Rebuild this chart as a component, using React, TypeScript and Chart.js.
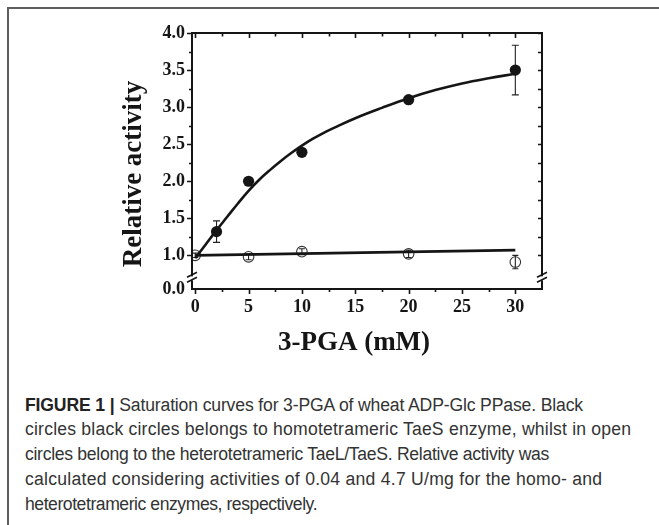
import React, { useEffect, useRef } from "react";
import { Chart, registerables } from "chart.js";

Chart.register(...registerables);

// ---- data ----
const filledX = [2, 5, 10, 20, 30];
const filledY = [1.32, 2.0, 2.39, 3.1, 3.5];
const filledErr = [0.145, 0.03, 0.03, 0.04, 0.335];

const openX = [0, 5, 10, 20, 30];
const openY = [1.0, 0.98, 1.05, 1.02, 0.91];
const openErr = [0.03, 0.04, 0.04, 0.05, 0.09];

const fitFilledX = [0, 1, 2, 3, 4, 5, 6, 7, 8, 9, 10, 11, 12, 13, 15, 17.5, 20, 22.5, 25, 27.5, 30];
const fitFilledY = [0.96, 1.15, 1.34, 1.52, 1.7, 1.87, 2.02, 2.15, 2.27, 2.38, 2.48, 2.57, 2.65, 2.72, 2.85, 2.99, 3.12, 3.23, 3.32, 3.39, 3.45];

const fitOpenX = [0, 30];
const fitOpenY = [1.0, 1.07];

const xTicks = [0, 5, 10, 15, 20, 25, 30];
const xMinorTicks = [2.5, 7.5, 12.5, 17.5, 22.5, 27.5];
const yTicks = [1.0, 1.5, 2.0, 2.5, 3.0, 3.5, 4.0];
const yMinorTicks = [1.25, 1.75, 2.25, 2.75, 3.25, 3.75];
const yBreakLabel = "0.0";
const yBreakValue = 0.69;

const X_MIN = -0.3;
const X_MAX = 32.5;
const Y_MIN = 0.546;
const Y_MAX = 4.0;

const xTitle = "3-PGA (mM)";
const yTitle = "Relative activity";

const captionLead = "FIGURE 1 |";
const captionLines = [
  " Saturation curves for 3-PGA of wheat ADP-Glc PPase. Black",
  "circles black circles belongs to homotetrameric TaeS enzyme, whilst in open",
  "circles belong to the heterotetrameric TaeL/TaeS. Relative activity was",
  "calculated considering activities of 0.04 and 4.7 U/mg for the homo- and",
  "heterotetrameric enzymes, respectively.",
];
const captionSpacing = [-0.15, 0.2, -0.3, 0.25, -0.45];

const INK = "#151515";
const SERIF = "'Liberation Serif', 'Times New Roman', serif";

const framePlugin = {
  id: "frameAndDecor",
  beforeDatasetsDraw(chart: any) {
    const { ctx, scales } = chart;
    const xs = scales.x;
    const ys = scales.y;
    ctx.save();
    ctx.strokeStyle = "#222";
    ctx.lineWidth = 1.1;
    const drawErr = (xv: number[], yv: number[], ev: number[], cap: number) => {
      for (let i = 0; i < xv.length; i++) {
        const px = xs.getPixelForValue(xv[i]);
        const p1 = ys.getPixelForValue(yv[i] + ev[i]);
        const p2 = ys.getPixelForValue(yv[i] - ev[i]);
        ctx.beginPath();
        ctx.moveTo(px, p1);
        ctx.lineTo(px, p2);
        ctx.moveTo(px - cap, p1);
        ctx.lineTo(px + cap, p1);
        ctx.moveTo(px - cap, p2);
        ctx.lineTo(px + cap, p2);
        ctx.stroke();
      }
    };
    drawErr(filledX, filledY, filledErr, 3.5);
    drawErr(openX, openY, openErr, 3);
    ctx.restore();
  },
  afterDraw(chart: any) {
    const { ctx, chartArea, scales } = chart;
    const xs = scales.x;
    const ys = scales.y;
    const { left, right, top, bottom } = chartArea;
    ctx.save();
    ctx.strokeStyle = INK;
    ctx.lineWidth = 2;
    ctx.lineCap = "butt";
    ctx.beginPath();
    ctx.moveTo(left, top);
    ctx.lineTo(right, top);
    ctx.lineTo(right, bottom);
    ctx.lineTo(left, bottom);
    ctx.closePath();
    ctx.stroke();
    ctx.lineWidth = 1.6;
    ctx.beginPath();
    for (const v of xTicks) {
      const px = Math.round(xs.getPixelForValue(v)) + 0.5;
      ctx.moveTo(px, bottom);
      ctx.lineTo(px, bottom + 5);
      ctx.moveTo(px, top);
      ctx.lineTo(px, top + 5);
    }
    for (const v of xMinorTicks) {
      const px = Math.round(xs.getPixelForValue(v)) + 0.5;
      ctx.moveTo(px, bottom);
      ctx.lineTo(px, bottom + 3);
      ctx.moveTo(px, top);
      ctx.lineTo(px, top + 3.5);
    }
    for (const v of yTicks) {
      const py = Math.round(ys.getPixelForValue(v)) + 0.5;
      ctx.moveTo(left, py);
      ctx.lineTo(left - 5, py);
      ctx.moveTo(right, py);
      ctx.lineTo(right - 4, py);
    }
    for (const v of yMinorTicks) {
      const py = Math.round(ys.getPixelForValue(v)) + 0.5;
      ctx.moveTo(left, py);
      ctx.lineTo(left - 3, py);
      ctx.moveTo(right, py);
      ctx.lineTo(right - 4, py);
    }
    ctx.stroke();
    const by = ys.getPixelForValue(yBreakValue);
    for (const ax of [left, right]) {
      ctx.fillStyle = "#fff";
      ctx.fillRect(ax - 2, by - 2, 4, 4);
      ctx.strokeStyle = INK;
      ctx.lineWidth = 1.6;
      ctx.beginPath();
      ctx.moveTo(ax - 5, by - 1);
      ctx.lineTo(ax + 5, by - 6);
      ctx.moveTo(ax - 5, by + 4);
      ctx.lineTo(ax + 5, by - 1);
      ctx.stroke();
    }
    ctx.fillStyle = INK;
    ctx.font = `bold 27px ${SERIF}`;
    ctx.textAlign = "center";
    ctx.textBaseline = "alphabetic";
    ctx.fillText(xTitle, (left + right) / 2 - 13, bottom + 61);
    ctx.save();
    ctx.translate(left - 51, (top + bottom) / 2 + 13);
    ctx.rotate(-Math.PI / 2);
    ctx.fillText(yTitle, 0, 0);
    ctx.restore();
    ctx.restore();
  },
};

function ChartCanvas() {
  const ref = useRef<HTMLCanvasElement | null>(null);
  useEffect(() => {
    if (!ref.current) return;
    const chart = new Chart(ref.current, {
      type: "scatter",
      data: {
        datasets: [
          {
            type: "line",
            data: fitFilledX.map((x, i) => ({ x, y: fitFilledY[i] })),
            borderColor: INK,
            borderWidth: 2.6,
            pointRadius: 0,
            tension: 0.4,
            fill: false,
          } as any,
          {
            type: "line",
            data: fitOpenX.map((x, i) => ({ x, y: fitOpenY[i] })),
            borderColor: INK,
            borderWidth: 2.6,
            pointRadius: 0,
            fill: false,
          } as any,
          {
            data: filledX.map((x, i) => ({ x, y: filledY[i] })),
            backgroundColor: INK,
            borderColor: INK,
            borderWidth: 0,
            pointRadius: 5.6,
            showLine: false,
          },
          {
            data: openX.map((x, i) => ({ x, y: openY[i] })),
            backgroundColor: "rgba(0,0,0,0)",
            borderColor: "#333",
            borderWidth: 1.1,
            pointRadius: 5.3,
            showLine: false,
          },
        ],
      },
      options: {
        animation: false,
        responsive: false,
        devicePixelRatio: 1,
        events: [],
        layout: { padding: { left: 0, top: 33, right: 117, bottom: 0 } },
        plugins: { legend: { display: false }, tooltip: { enabled: false } },
        scales: {
          x: {
            type: "linear",
            min: X_MIN,
            max: X_MAX,
            grid: { display: false, drawTicks: false },
            border: { display: false },
            afterFit: (s: any) => {
              s.height = 81;
            },
            afterBuildTicks: (s: any) => {
              s.ticks = xTicks.map((v) => ({ value: v }));
            },
            ticks: {
              color: INK,
              padding: 8,
              font: { family: SERIF, weight: "bold", size: 18 },
              callback: (v: any) => String(v),
              maxRotation: 0,
              autoSkip: false,
            },
          },
          y: {
            type: "linear",
            min: Y_MIN,
            max: Y_MAX,
            grid: { display: false, drawTicks: false },
            border: { display: false },
            afterFit: (s: any) => {
              s.width = 192;
            },
            afterBuildTicks: (s: any) => {
              s.ticks = [{ value: Y_MIN }, ...yTicks.map((v) => ({ value: v }))];
            },
            ticks: {
              color: INK,
              padding: 7,
              font: { family: SERIF, weight: "bold", size: 18 },
              callback: (v: any) => (v === Y_MIN ? yBreakLabel : Number(v).toFixed(1)),
              autoSkip: false,
            },
          },
        },
      },
      plugins: [framePlugin],
    } as any);
    return () => chart.destroy();
  }, []);
  return (
    <canvas
      ref={ref}
      width={659}
      height={370}
      style={{ position: "fixed", left: 0, top: 0, width: 659, height: 370 }}
    />
  );
}

export default function App() {
  return (
    <div>
      <div
        style={{
          position: "fixed",
          left: 7,
          top: 7,
          right: -20,
          bottom: -20,
          borderTop: "2px solid #5e5e5e",
          borderLeft: "2px solid #5e5e5e",
          background: "#fff",
        }}
      />
      <ChartCanvas />
      <div
        style={{
          position: "fixed",
          left: 25,
          top: 392.5,
          width: 630,
          fontFamily: "'Liberation Sans', Arial, sans-serif",
          fontSize: 17.6,
          lineHeight: "24.8px",
          color: "#333",
          whiteSpace: "pre",
        }}
      >
        {captionLines.map((line, i) => (
          <div key={i} style={{ letterSpacing: captionSpacing[i] }}>
            {i === 0 ? <b style={{ color: "#222" }}>{captionLead}</b> : null}
            {line}
          </div>
        ))}
      </div>
    </div>
  );
}
